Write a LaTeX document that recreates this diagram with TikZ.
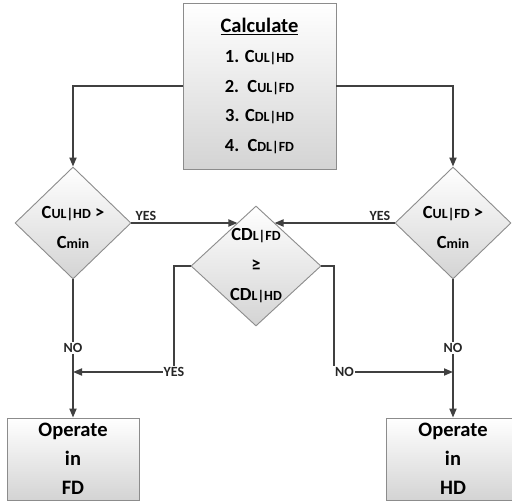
\documentclass[tikz,border=0pt]{standalone}
\usepackage{fontspec}
\setmainfont{Carlito}
\usetikzlibrary{arrows.meta,shapes.geometric,calc,shadows}
\definecolor{ln}{RGB}{64,64,64}
\definecolor{bd}{RGB}{140,140,140}
\newcommand\smc[1]{{\fontsize{14}{14}\selectfont #1}}
\begin{document}
\begin{tikzpicture}[x=1pt,y=-1pt,
  box/.style={draw=bd, line width=0.9pt, top color=white, bottom color=black!17,
    drop shadow={opacity=0.25, shadow xshift=1pt, shadow yshift=-1pt}, inner sep=0pt},
  dia/.style={shape=diamond, draw=bd, line width=0.9pt, top color=white, bottom color=black!17, inner sep=0pt, aspect=1},
  dtxt/.style={align=center, font=\bfseries\fontsize{18.5}{30}\selectfont},
  lbl/.style={font=\bfseries\fontsize{14}{14}\selectfont, inner sep=1pt, fill=white, text=black!85},
  ln/.style={draw=ln, line width=1.8pt},
  arr/.style={ln, -{Triangle[length=9pt,width=7pt]}}]
\clip (0,0) rectangle (512,501);
\fill[white] (0,0) rectangle (512,501);
% boxes
\node[box, minimum width=153pt, minimum height=166pt, align=center,
  font=\bfseries\fontsize{18.5}{29.7}\selectfont] (calc) at (259.5,86)
  {{\fontsize{20.5}{29.7}\selectfont\underline{Calculate}}\\
   1. C\smc{UL|HD}\\ 2.\ \ C\smc{UL|FD}\\ 3. C\smc{DL|HD}\\ 4.\ \ C\smc{DL|FD}};
\node[box, minimum width=132pt, minimum height=82pt, align=center,
  font=\bfseries\fontsize{20.5}{29}\selectfont] (fd) at (73,459) {Operate\\in\\FD};
\node[box, minimum width=134pt, minimum height=82pt, align=center,
  font=\bfseries\fontsize{20.5}{29}\selectfont] (hd) at (453,459) {Operate\\in\\HD};
% diamonds
\node[dia, minimum width=116pt, minimum height=112pt] (ld) at (73,223) {};
\node[dia, minimum width=116pt, minimum height=112pt] (rd) at (453,223) {};
\node[dia, minimum width=130pt, minimum height=120pt] (md) at (256,266) {};
\node[dtxt] (ldt) at (73,227) {C\smc{UL|HD} >\\C\smc{min}};
\node[dtxt] (rdt) at (453,227) {C\smc{UL|FD} >\\C\smc{min}};
\node[dtxt] (mdt) at (256,266) {CD\smc{L|FD}\\≥\\CD\smc{L|HD}};
% labels
\node[lbl, fill=none] (y1) at (146,216) {YES};
\node[lbl, fill=none] (y2) at (380,216) {YES};
\node[lbl] (y3) at (174,372) {YES};
\node[lbl, anchor=west] (n3) at (334,372) {NO};
\node[lbl] (n1) at (73,348) {NO};
\node[lbl] (n2) at (453,348) {NO};
% connectors
\coordinate (mdl) at ($(md.north)!0.283!(md.west)$);
\coordinate (mdr) at ($(md.north)!0.283!(md.east)$);
\draw[arr] (calc.west) -| (ld.north);
\draw[arr] (calc.east) -| (rd.north);
\draw[arr] (ld.east) -- (ld.east -| mdl);
\draw[arr] (rd.west) -- (rd.west -| mdr);
\draw[ln] (md.west) -| (y3.north);
\draw[arr] (y3.west) -- (y3.west -| fd.north);
\draw[ln] (md.east) -| (n3.north west);
\draw[arr] (n3.east) -- (n3.east -| hd.north);
\draw[ln] (ld.south) -- (n1.north);
\draw[arr] (n1.south) -- (fd.north);
\draw[ln] (rd.south) -- (n2.north);
\draw[arr] (n2.south) -- (hd.north);
\end{tikzpicture}
\end{document}
